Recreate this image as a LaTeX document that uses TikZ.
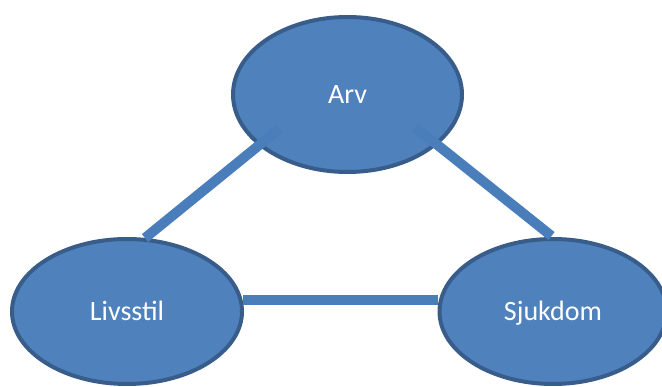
\documentclass[tikz,border=0pt]{standalone}
\usepackage{fontspec}
\setmainfont{Carlito}
\usetikzlibrary{shapes.geometric,calc}
\definecolor{ofill}{HTML}{4F81BD}
\definecolor{oborder}{HTML}{385D8A}
\definecolor{oline}{HTML}{4A7EBB}
\begin{document}
\begin{tikzpicture}[x=1pt,y=-1pt,
  bubble/.style={ellipse, draw=oborder, fill=ofill, line width=4pt, inner sep=0pt,
    text=white, text height=18pt, text depth=0pt, font=\fontsize{28}{32}\selectfont},
  conn/.style={draw=oline, line width=10pt, line cap=butt}]
\useasboundingbox (0,0) rectangle (662,387);
\node[bubble, minimum width=229pt, minimum height=155pt] (arv) at (347.5,94.5) {Arv};
\node[bubble, minimum width=230pt, minimum height=145pt] (liv) at (127,311.5) {Livsstil};
\node[bubble, minimum width=227pt, minimum height=145pt] (sju) at (553,311.5) {Sjukdom};
\coordinate (a1) at ($(arv)+(-68.5,34.5)$);
\coordinate (l1) at ($(liv)+(18,-73.5)$);
\coordinate (a2) at ($(arv)+(67.5,32.5)$);
\coordinate (s1) at ($(sju)+(-1.5,-75.5)$);
\coordinate (l2) at ($(liv)+(116,-11.5)$);
\coordinate (s2) at ($(sju)+(-115,-11.5)$);
\draw[conn] (a1) -- (l1);
\draw[conn] (a2) -- (s1);
\draw[conn] (l2) -- (s2);
\end{tikzpicture}
\end{document}
